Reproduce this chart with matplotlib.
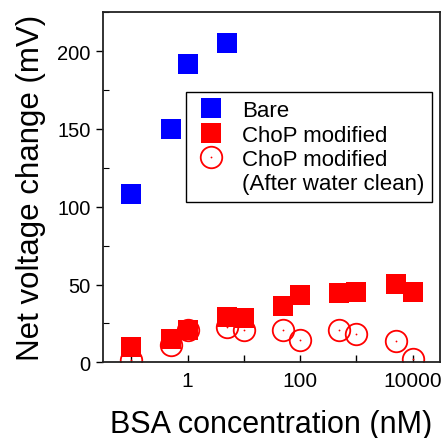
import matplotlib
matplotlib.use('Agg')
import matplotlib.pyplot as plt
from matplotlib.lines import Line2D
from matplotlib.legend_handler import HandlerTuple
from matplotlib.ticker import FixedLocator, LogLocator, MultipleLocator, FuncFormatter, NullFormatter
import numpy as np

# BSA concentration (nM) and net voltage change (mV)
conc_bare = [0.1, 0.5, 1, 5]
bare = [108, 150, 192, 205]

conc_chop = [0.1, 0.5, 1, 5, 10, 50, 100, 500, 1000, 5000, 10000]
chop = [10, 15, 21, 29, 28.5, 36.5, 43, 44.5, 45.5, 50.5, 45]
chop_clean = [1.5, 11, 21, 22.5, 21, 21, 14.5, 21, 18, 14, 2]

plt.rcParams['font.family'] = ['Liberation Sans', 'DejaVu Sans']

fig = plt.figure(figsize=(4.43, 4.39), dpi=100)
ax = fig.add_axes([0.2325, 0.1724, 0.7605, 0.7973])

# circles first so the squares sit on top of them
circ, = ax.plot(conc_chop, chop_clean, linestyle='none', marker='o', markersize=15.5,
                markerfacecolor='none', markeredgecolor='#ff0000', markeredgewidth=1.3, zorder=2)
dot, = ax.plot(conc_chop, chop_clean, linestyle='none', marker='o', markersize=1.3,
               color='#ff0000', markeredgewidth=0, zorder=2)
sq_bare, = ax.plot(conc_bare, bare, linestyle='none', marker='s', markersize=14,
                   color='#0000ff', markeredgewidth=0, zorder=3)
sq_chop, = ax.plot(conc_chop, chop, linestyle='none', marker='s', markersize=14,
                   color='#ff0000', markeredgewidth=0, zorder=3)

ax.set_xscale('log')
ax.set_xlim(0.0312, 30600)
ax.set_ylim(0, 225)

decades = [10.0 ** k for k in range(-2, 6)]
ax.xaxis.set_major_locator(FixedLocator(decades))
ax.xaxis.set_minor_locator(LogLocator(base=10, subs=np.arange(2, 10)))


def xfmt(v, pos):
    k = int(round(np.log10(v)))
    if k >= 0 and k % 2 == 0:
        return str(int(round(v)))
    return ''


ax.xaxis.set_major_formatter(FuncFormatter(xfmt))
ax.xaxis.set_minor_formatter(NullFormatter())
ax.yaxis.set_major_locator(MultipleLocator(50))
ax.yaxis.set_minor_locator(MultipleLocator(25))

ax.tick_params(axis='x', which='major', direction='in', length=5, width=1, labelsize=15, pad=6)
ax.tick_params(axis='x', which='minor', direction='in', length=3, width=0.8)
ax.tick_params(axis='y', which='major', direction='out', length=5, width=1, labelsize=14.5, pad=4)
ax.tick_params(axis='y', which='minor', direction='in', length=4, width=0.8)

for s in ax.spines.values():
    s.set_linewidth(1.3)
    s.set_color('#222222')

ax.set_xlabel('BSA concentration (nM)', fontsize=22, labelpad=14)
ax.set_ylabel('Net voltage change (mV)', fontsize=22.5, labelpad=8)

blank = Line2D([], [], linestyle='none', marker='none')
leg = ax.legend([sq_bare, sq_chop, (circ, dot), blank],
                ['Bare', 'ChoP modified', 'ChoP modified', '(After water clean)'],
                handler_map={tuple: HandlerTuple(ndivide=1)},
                loc='upper right', bbox_to_anchor=(0.976, 0.771),
                fontsize=16, frameon=True, fancybox=False, framealpha=1,
                edgecolor='black', borderpad=0.35, labelspacing=0.15,
                handlelength=1.5, handletextpad=0.65, borderaxespad=0)
leg.get_frame().set_linewidth(1.0)

fig.savefig('out.png', dpi=100)
